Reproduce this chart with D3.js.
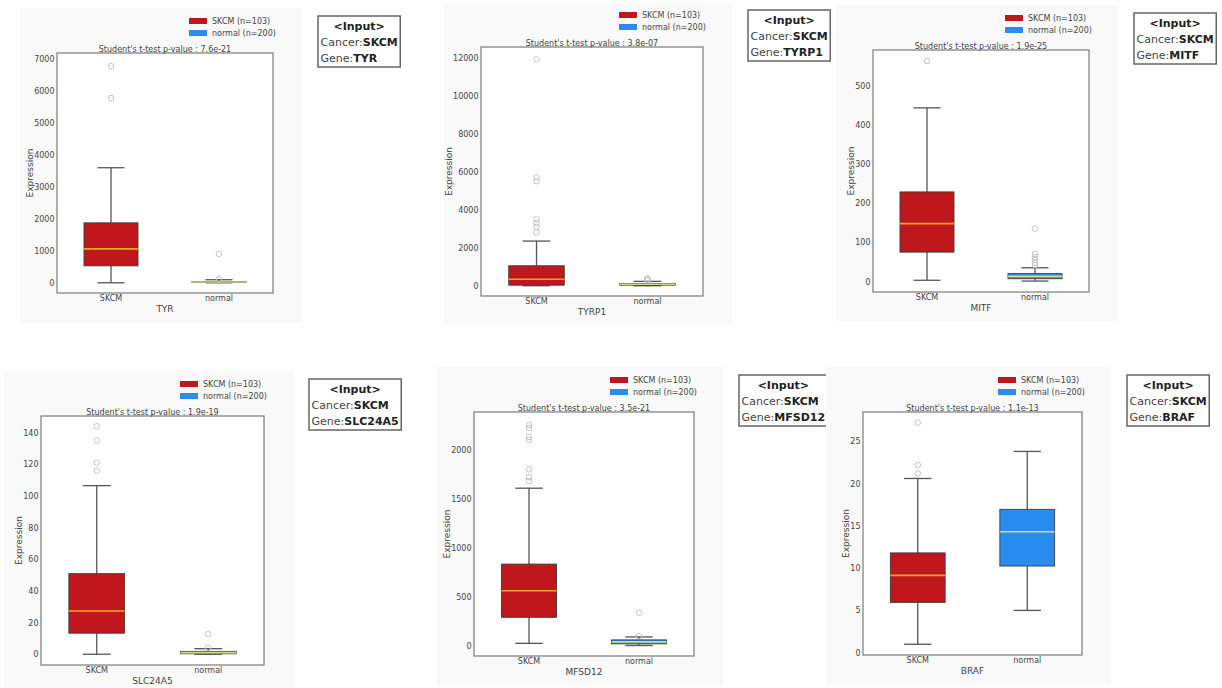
<!DOCTYPE html>
<html>
<head>
<meta charset="utf-8">
<script src="https://cdn.jsdelivr.net/npm/d3@7"></script>
<style>
  body { margin: 0; background: #fff; }
  svg { display: block; font-family: "DejaVu Sans", sans-serif; }
</style>
</head>
<body>
<svg id="chart" width="1222" height="688"></svg>
<script>
// ---- data ----
const cancerType = "SKCM";
const groups = ["SKCM", "normal"];
const groupCounts = [103, 200];
const genes = ["TYR", "TYRP1", "MITF", "SLC24A5", "MFSD12", "BRAF"];
const pValues = ["7.6e-21", "3.8e-07", "1.9e-25", "1.9e-19", "3.5e-21", "1.1e-13"];

// five-number summaries: [lower whisker, Q1, median, Q3, upper whisker]
const skcmBoxes = [
  [0, 530, 1060, 1875, 3600],
  [0, 30, 340, 1050, 2350],
  [3, 75, 148, 229, 444],
  [0, 13.3, 27.3, 50.9, 106.5],
  [27, 292, 562, 834, 1607],
  [1.0, 5.95, 9.15, 11.8, 20.6]
];
const normalBoxes = [
  [0, 8, 22, 40, 95],
  [0, 30, 80, 120, 230],
  [1, 7, 13, 20, 35],
  [0, 0.3, 1.0, 1.8, 3.5],
  [5, 22, 42, 62, 92],
  [5.0, 10.25, 14.3, 16.95, 23.8]
];
const skcmOutliers = [
  [5780, 6780],
  [2800, 3100, 3300, 3500, 5500, 5700, 11900],
  [564],
  [116, 121, 135, 144],
  [1680, 1720, 1800, 2100, 2130, 2220, 2250],
  [21.2, 22.2, 27.2]
];
const normalOutliers = [
  [120, 906],
  [280, 330, 390],
  [42, 47, 55, 62, 70, 135],
  [4, 12.8],
  [100, 340],
  []
];
const yTicks = [
  [0, 1000, 2000, 3000, 4000, 5000, 6000, 7000],
  [0, 2000, 4000, 6000, 8000, 10000, 12000],
  [0, 100, 200, 300, 400, 500],
  [0, 20, 40, 60, 80, 100, 120, 140],
  [0, 500, 1000, 1500, 2000],
  [0, 5, 10, 15, 20, 25]
];
const yLimits = [
  [-320, 7190],
  [-540, 12560],
  [-27, 592],
  [-6.8, 150.5],
  [-102, 2383],
  [-0.27, 28.46]
];

// ---- layout: plot frame of each panel [left, top, right, bottom] ----
const frames = [
  [57, 53, 273, 293],
  [481, 47, 703, 296],
  [873, 50, 1089, 292],
  [41, 416, 264, 665],
  [474, 412, 694, 656],
  [863, 412, 1082, 655]
];

const fillColors = ["#c0171c", "#2b8cf0"];
const medianColors = ["#f4a52c", "#d2de84"];
const svg = d3.select("#chart");

genes.forEach((gene, i) => {
  const [L, T, R, B] = frames[i];
  const g = svg.append("g");

  // faint figure background
  g.append("rect")
    .attr("x", L - 37).attr("y", T - 45)
    .attr("width", R - L + 66).attr("height", B - T + 75)
    .attr("fill", "#f9f9f9");

  const x = d3.scaleBand().domain(groups).range([L, R])
    .paddingInner(0.5).paddingOuter(0.25);
  const y = d3.scaleLinear().domain(yLimits[i]).range([B, T]);

  // frame
  g.append("rect")
    .attr("x", L).attr("y", T).attr("width", R - L).attr("height", B - T)
    .attr("fill", "#fff").attr("stroke", "#7a7a7a").attr("stroke-width", 1.2);

  // y axis
  const yAxis = g.append("g")
    .attr("transform", `translate(${L},0)`)
    .call(d3.axisLeft(y).tickValues(yTicks[i]).tickSize(0).tickPadding(2.5)
      .tickFormat(d3.format("d")));
  yAxis.select(".domain").remove();
  yAxis.selectAll("text").attr("font-size", 8).attr("fill", "#444")
    .attr("font-family", "DejaVu Sans");
  let maxW = 0;
  yAxis.selectAll("text").each(function () {
    maxW = Math.max(maxW, this.getComputedTextLength());
  });

  // x axis category labels
  const xAxis = g.append("g")
    .attr("transform", `translate(0,${B})`)
    .call(d3.axisBottom(x).tickSize(0).tickPadding(2));
  xAxis.select(".domain").remove();
  xAxis.selectAll("text").attr("font-size", 8).attr("fill", "#444")
    .attr("font-family", "DejaVu Sans");

  // axis titles
  g.append("text")
    .attr("x", (L + R) / 2).attr("y", B + 18.5)
    .attr("text-anchor", "middle").attr("font-size", 9).attr("fill", "#444")
    .text(gene);
  g.append("text")
    .attr("transform", `translate(${L - maxW - 4},${(T + B) / 2}) rotate(-90)`)
    .attr("text-anchor", "middle").attr("font-size", 9).attr("fill", "#444")
    .text("Expression");

  // plot title
  g.append("text")
    .attr("x", (L + R) / 2).attr("y", T - 1.5)
    .attr("text-anchor", "middle").attr("font-size", 8).attr("fill", "#444")
    .text(`Student's t-test p-value : ${pValues[i]}`);

  // boxes
  const stats = [skcmBoxes[i], normalBoxes[i]];
  const outs = [skcmOutliers[i], normalOutliers[i]];
  groups.forEach((grp, k) => {
    const [lo, q1, med, q3, hi] = stats[k];
    const x0 = x(grp), bw = x.bandwidth(), cx = x0 + bw / 2;
    const wg = g.append("g").attr("stroke", "#555").attr("stroke-width", 1.3);
    wg.append("line").attr("x1", cx).attr("x2", cx).attr("y1", y(lo)).attr("y2", y(q1));
    wg.append("line").attr("x1", cx).attr("x2", cx).attr("y1", y(q3)).attr("y2", y(hi));
    wg.append("line").attr("x1", cx - bw / 4).attr("x2", cx + bw / 4).attr("y1", y(lo)).attr("y2", y(lo));
    wg.append("line").attr("x1", cx - bw / 4).attr("x2", cx + bw / 4).attr("y1", y(hi)).attr("y2", y(hi));
    g.append("rect")
      .attr("x", x0).attr("width", bw)
      .attr("y", y(q3)).attr("height", Math.max(1, y(q1) - y(q3)))
      .attr("fill", fillColors[k]).attr("stroke", "#3a3a3a").attr("stroke-width", 0.9);
    g.append("line")
      .attr("x1", x0).attr("x2", x0 + bw).attr("y1", y(med)).attr("y2", y(med))
      .attr("stroke", medianColors[k]).attr("stroke-width", 1.6);
    g.selectAll(null).data(outs[k]).enter().append("circle")
      .attr("cx", cx).attr("cy", d => y(d)).attr("r", 2.8)
      .attr("fill", "none").attr("stroke", "#c4c4c4").attr("stroke-width", 1);
  });

  // legend
  const lg = g.append("g").attr("transform", `translate(${R - 84},${T - 32})`);
  groups.forEach((grp, k) => {
    lg.append("rect").attr("x", 0).attr("y", k * 12 - 3).attr("width", 18).attr("height", 6)
      .attr("fill", fillColors[k]);
    lg.append("text").attr("x", 23).attr("y", k * 12 + 3)
      .attr("font-size", 8).attr("fill", "#444")
      .text(`${grp} (n=${groupCounts[k]})`);
  });

  // input info box
  const ib = g.append("g").attr("transform", `translate(${R + 45},${T - 37})`);
  const bg = ib.append("rect").attr("fill", "#fff").attr("stroke", "#666").attr("stroke-width", 1.5);
  const t0 = ib.append("text").attr("y", 14).attr("font-size", 11).attr("font-weight", "bold")
    .attr("fill", "#222").attr("text-anchor", "middle").text("<Input>");
  const t1 = ib.append("text").attr("x", 2.5).attr("y", 30).attr("font-size", 11).attr("fill", "#444");
  t1.append("tspan").text("Cancer:");
  t1.append("tspan").attr("font-weight", "bold").attr("fill", "#222").text(cancerType);
  const t2 = ib.append("text").attr("x", 2.5).attr("y", 46).attr("font-size", 11).attr("fill", "#444");
  t2.append("tspan").text("Gene:");
  t2.append("tspan").attr("font-weight", "bold").attr("fill", "#222").text(gene);
  const w = Math.max(t0.node().getComputedTextLength(), t1.node().getComputedTextLength(),
    t2.node().getComputedTextLength()) + 5;
  t0.attr("x", w / 2);
  bg.attr("x", 0).attr("y", 0).attr("width", w).attr("height", 51);
});
</script>
</body>
</html>
